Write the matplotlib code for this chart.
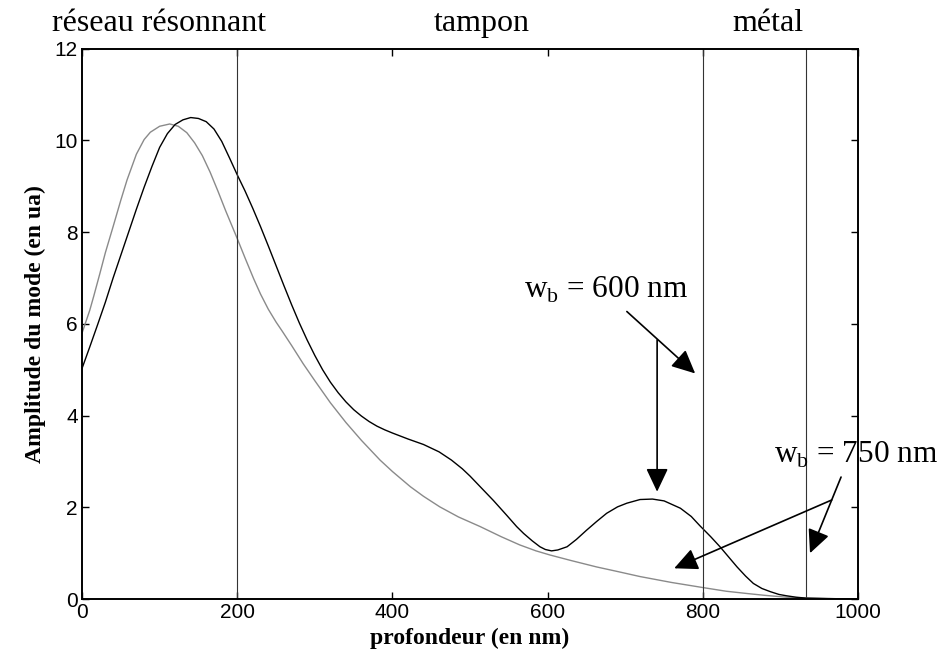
import matplotlib
matplotlib.use("Agg")
import matplotlib.pyplot as plt
import numpy as np

# mode profile for w_b = 600 nm (black)
depth_600 = [0, 10, 20, 30, 40, 50, 60, 70, 80, 90, 100, 110, 120, 130, 140, 150, 160, 170,
             180, 190, 200, 210, 220, 230, 240, 250, 260, 270, 280, 290, 300, 310, 320, 330,
             340, 350, 360, 370, 380, 390, 400, 420, 440, 460, 476, 490, 500, 513, 530, 547,
             560, 569, 580, 590, 597, 605, 613, 625, 637, 650, 663, 676, 690, 702, 719, 735,
             750, 771, 785, 796, 810, 822, 833, 844, 855, 865, 876, 887, 898, 908, 920, 933,
             960, 1000]
amp_600 = [5.03, 5.5, 5.98, 6.47, 7.0, 7.5, 8.0, 8.5, 8.98, 9.43, 9.85, 10.15, 10.35, 10.45,
           10.50, 10.48, 10.41, 10.25, 9.98, 9.62, 9.25, 8.9, 8.52, 8.12, 7.7, 7.27, 6.84,
           6.42, 6.02, 5.65, 5.31, 5.0, 4.73, 4.5, 4.3, 4.13, 3.99, 3.87, 3.77, 3.69, 3.62,
           3.49, 3.37, 3.21, 3.03, 2.84, 2.68, 2.45, 2.15, 1.83, 1.58, 1.43, 1.27, 1.14, 1.08,
           1.05, 1.07, 1.14, 1.3, 1.5, 1.69, 1.87, 2.01, 2.09, 2.17, 2.18, 2.14, 1.98, 1.8,
           1.6, 1.36, 1.14, 0.92, 0.70, 0.5, 0.34, 0.23, 0.16, 0.1, 0.07, 0.04, 0.02, 0.01,
           0.0]

# mode profile for w_b = 750 nm (grey)
depth_750 = [0, 10, 15, 23, 30, 40, 50, 58, 70, 80, 88, 100, 113, 124, 135, 145, 155, 165,
             175, 185, 200, 210, 221, 230, 240, 250, 258, 270, 285, 300, 320, 340, 360, 384,
             400, 423, 440, 461, 485, 513, 540, 564, 585, 603, 630, 663, 690, 719, 760, 800,
             830, 857, 880, 908, 933, 960, 1000]
amp_750 = [5.8, 6.3, 6.6, 7.1, 7.55, 8.12, 8.7, 9.14, 9.7, 10.02, 10.18, 10.31, 10.36,
           10.31, 10.17, 9.95, 9.67, 9.31, 8.9, 8.47, 7.86, 7.44, 6.99, 6.65, 6.32, 6.04,
           5.84, 5.53, 5.13, 4.76, 4.28, 3.85, 3.46, 3.03, 2.78, 2.45, 2.24, 2.01, 1.79, 1.58,
           1.36, 1.18, 1.05, 0.96, 0.84, 0.70, 0.6, 0.49, 0.36, 0.25, 0.17, 0.12, 0.08, 0.04,
           0.02, 0.01, 0.0]

# layer boundaries and region names
boundaries = [200, 800, 933]
regions = ["réseau résonnant", "tampon", "métal"]
region_x = [99, 515, 884]

fig = plt.figure(figsize=(9.43, 6.59), dpi=100)
ax = fig.add_axes([0.087, 0.091, 0.823, 0.835])

ax.plot(depth_750, amp_750, color="#8a8a8a", lw=1.0)
ax.plot(depth_600, amp_600, color="black", lw=1.0)
for b in boundaries:
    ax.axvline(b, color="0.2", lw=0.8)

ax.set_xlim(0, 1000)
ax.set_ylim(0, 12)
ax.set_xticks([0, 200, 400, 600, 800, 1000])
ax.set_yticks([0, 2, 4, 6, 8, 10, 12])
ax.tick_params(direction="in", length=5, width=1, top=True, right=True,
               labelsize=15, pad=3)
for lab in ax.get_xticklabels() + ax.get_yticklabels():
    lab.set_family("Liberation Sans")
for s in ax.spines.values():
    s.set_linewidth(1.4)

ax.set_xlabel("profondeur (en nm)", family="Liberation Serif", fontweight="bold",
              fontsize=17, labelpad=4)
ax.set_ylabel("Amplitude du mode (en ua)", family="Liberation Serif", fontweight="bold",
              fontsize=17, labelpad=6)

for name, xr in zip(regions, region_x):
    ax.text(xr, 12.38, name, ha="center", va="baseline", fontsize=23,
            family="Liberation Serif", clip_on=False)

style = "-|>,head_length=1.44,head_width=0.68"
aprops = dict(arrowstyle=style, color="black", lw=1.2, shrinkA=0, shrinkB=0)

ax.text(781, 6.57, r"w$_\mathregular{b}$ = 600 nm", ha="right", va="baseline",
        fontsize=22.5, family="Liberation Serif")
ax.annotate("", xy=(790, 4.92), xytext=(702, 6.27), arrowprops=aprops)
ax.annotate("", xy=(741, 2.34), xytext=(741, 5.65), arrowprops=aprops)

ax.text(1103, 2.97, r"w$_\mathregular{b}$ = 750 nm", ha="right", va="baseline",
        fontsize=22.5, family="Liberation Serif", clip_on=False)
ax.annotate("", xy=(763, 0.67), xytext=(966, 2.16), arrowprops=aprops)
ax.annotate("", xy=(938, 1.0), xytext=(978, 2.66), arrowprops=aprops,
            annotation_clip=False)

fig.savefig("out.png", dpi=100)
